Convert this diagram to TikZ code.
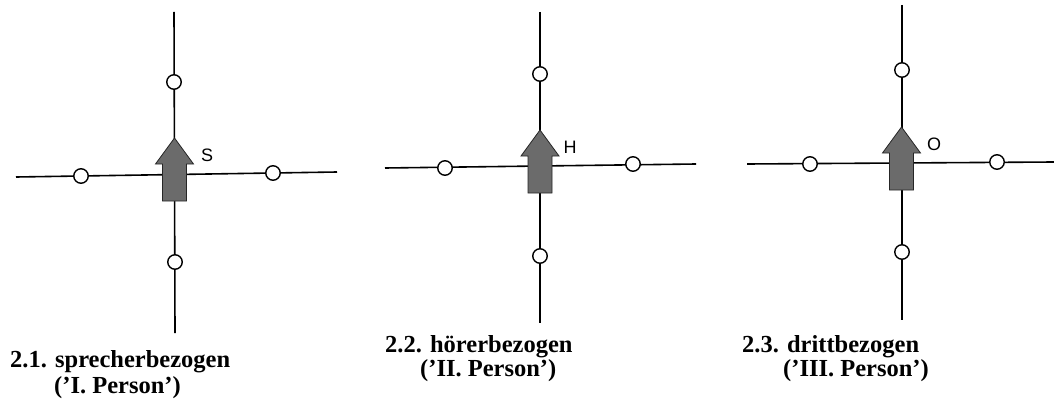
\documentclass[tikz,border=0pt]{standalone}
\usepackage{fontspec}
\setmainfont{Liberation Serif}
\newfontfamily\lblfont{Liberation Sans}
\begin{document}
\begin{tikzpicture}[x=1pt,y=-1pt,
  axis/.style={line width=1.6pt},
  knot/.style={circle,draw,fill=white,line width=1.4pt,minimum size=14.5pt,inner sep=0pt},
  arrowfill/.style={fill=black!58,draw=black!85,line width=0.8pt},
  caption/.style={font=\bfseries\fontsize{24.5}{28}\selectfont,inner sep=0pt,anchor=base west},
  tag/.style={font=\lblfont\fontsize{18}{20}\selectfont,inner sep=0pt},
  bigarrow/.pic={\filldraw[arrowfill] (-12,0) -- (-12,-37) -- (-19,-37) -- (0,-63) -- (19,-37) -- (12,-37) -- (12,0) -- cycle;}]
\useasboundingbox (0,0) rectangle (1054,409);

% ---------- panel 1 ----------
\coordinate (a-t) at (174,12);
\coordinate (a-b) at (175,333);
\coordinate (a-l) at (16,177);
\coordinate (a-r) at (337,172);
\draw[axis] (a-t) -- (a-b);
\draw[axis] (a-l) -- (a-r);
\node[knot] (a-n) at (174,82) {};
\node[knot] (a-w) at (81,176) {};
\node[knot] (a-e) at (273,173) {};
\node[knot] (a-s) at (175,262) {};
\pic at (174.5,201) {bigarrow};
\node[tag] (a-lab) at (207,155) {S};
\node[caption] (a-c1) at (10,367) {2.1. sprecherbezogen};
\node[caption] (a-c2) at (54,393) {(’I. Person’)};

% ---------- panel 2 ----------
\coordinate (b-t) at (540,12);
\coordinate (b-b) at (540,323);
\coordinate (b-l) at (385,168);
\coordinate (b-r) at (696,164);
\draw[axis] (b-t) -- (b-b);
\draw[axis] (b-l) -- (b-r);
\node[knot] (b-n) at (540,74) {};
\node[knot] (b-w) at (445,168) {};
\node[knot] (b-e) at (633,164) {};
\node[knot] (b-s) at (540,256) {};
\pic at (540,193) {bigarrow};
\node[tag] (b-lab) at (570,147) {H};
\node[caption] (b-c1) at (385,352) {2.2. hörerbezogen};
\node[caption] (b-c2) at (420,376) {(’II. Person’)};

% ---------- panel 3 ----------
\coordinate (c-t) at (902,5);
\coordinate (c-b) at (902,320);
\coordinate (c-l) at (747,164);
\coordinate (c-r) at (1054,162);
\draw[axis] (c-t) -- (c-b);
\draw[axis] (c-l) -- (c-r);
\node[knot] (c-n) at (902,70) {};
\node[knot] (c-w) at (810,164) {};
\node[knot] (c-e) at (997,162) {};
\node[knot] (c-s) at (902,252) {};
\pic at (901.5,190) {bigarrow};
\node[tag] (c-lab) at (934,144) {O};
\node[caption] (c-c1) at (742,352) {2.3. drittbezogen};
\node[caption] (c-c2) at (783,376) {(’III. Person’)};
\end{tikzpicture}
\end{document}
